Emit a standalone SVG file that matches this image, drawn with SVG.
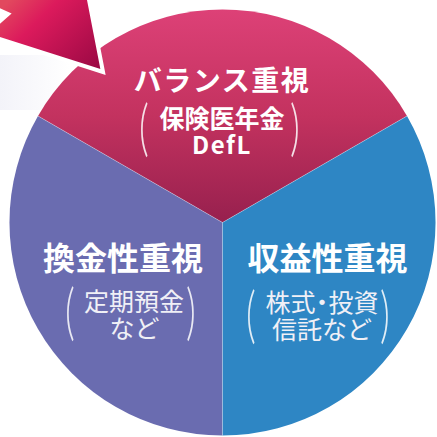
<svg xmlns="http://www.w3.org/2000/svg" width="437" height="437" viewBox="0 0 437 437">
<defs>
<linearGradient id="gPink" x1="0" y1="9" x2="0" y2="223" gradientUnits="userSpaceOnUse">
<stop offset="0" stop-color="#dd4177"/>
<stop offset="0.5" stop-color="#c3325f"/>
<stop offset="1" stop-color="#97204e"/>
</linearGradient>
<linearGradient id="gArrow" x1="20" y1="-10" x2="100" y2="72" gradientUnits="userSpaceOnUse">
<stop offset="0" stop-color="#e2485e"/>
<stop offset="0.3" stop-color="#dc1a5c"/>
<stop offset="1" stop-color="#980843"/>
</linearGradient>
<linearGradient id="gShade" x1="0" y1="0" x2="1" y2="0">
<stop offset="0" stop-color="#f3f3f9"/>
<stop offset="1" stop-color="#ffffff"/>
</linearGradient>
</defs>
<style>
.title{font-family:"Noto Sans CJK JP","Noto Sans",sans-serif;font-weight:700;fill:#ffffff;text-anchor:middle}
.sub{font-family:"Noto Sans CJK JP","Noto Sans",sans-serif;font-weight:400;fill:#f0f0f6;text-anchor:middle}
.subb{font-family:"Noto Sans CJK JP","Noto Sans",sans-serif;font-weight:700;fill:#ffffff;text-anchor:middle}
.par{font-family:"Lato","Liberation Sans",sans-serif;font-weight:300;fill:#ffffff;fill-opacity:0.85}
.sep{stroke:#ffffff;stroke-opacity:0.3;stroke-width:1;fill:none}
</style>
<rect x="0" y="55" width="70" height="55" fill="url(#gShade)"/>
<g id="sector-balance">
<path d="M222.5,222.5 L38,116 A213,213 0 0 1 407,116 Z" fill="url(#gPink)"/>
<text class="title" x="222" y="91" font-size="28" letter-spacing="1.5">バランス重視</text>
<text class="subb" x="222" y="128" font-size="25">保険医年金</text>
<text class="subb" x="222" y="154" font-size="24" font-family="Liberation Sans" letter-spacing="1.5">DefL</text>
<text class="par" x="139" y="142" font-size="38" transform="translate(139,131) scale(1,1.6) translate(-139,-131)">(</text>
<text class="par" x="290" y="142" font-size="38" transform="translate(290,131) scale(1,1.6) translate(-290,-131)">)</text>
</g>
<g id="sector-liquidity">
<path d="M222.5,222.5 L222.5,435.5 A213,213 0 0 1 38,116 Z" fill="#6a6cb0"/>
<text class="title" x="123" y="270" font-size="32">換金性重視</text>
<text class="sub" x="134" y="311" font-size="25">定期預金</text>
<text class="sub" x="134.5" y="338" font-size="25">など</text>
<text class="par" x="65" y="326" font-size="38" transform="translate(65,314.5) scale(1,1.6) translate(-65,-314.5)">(</text>
<text class="par" x="186" y="326" font-size="38" transform="translate(186,314.5) scale(1,1.6) translate(-186,-314.5)">)</text>
</g>
<g id="sector-profit">
<path d="M222.5,222.5 L407,116 A213,213 0 0 1 222.5,435.5 Z" fill="#2e86c4"/>
<text class="title" x="327.5" y="270" font-size="32">収益性重視</text>
<text class="sub" x="322" y="312" font-size="25">株式<tspan dx="-6">・</tspan><tspan dx="-6">投資</tspan></text>
<text class="sub" x="322" y="339" font-size="25">信託など</text>
<text class="par" x="246" y="329" font-size="38" transform="translate(246,317.5) scale(1,1.6) translate(-246,-317.5)">(</text>
<text class="par" x="380" y="329" font-size="38" transform="translate(380,317.5) scale(1,1.6) translate(-380,-317.5)">)</text>
</g>
<g id="connectors">
<line class="sep" x1="222.5" y1="222.5" x2="38" y2="116"/>
<line class="sep" x1="222.5" y1="222.5" x2="407" y2="116"/>
<line class="sep" x1="222.5" y1="222.5" x2="222.5" y2="435.5"/>
</g>
<g id="arrow">
<polygon points="103,72 79.3,-50.2 55.3,-28.5 10,-79 -50,-12 8,14 -14.6,34.3" fill="url(#gArrow)" stroke="#ffffff" stroke-width="4" stroke-linejoin="miter"/>
</g>
</svg>
